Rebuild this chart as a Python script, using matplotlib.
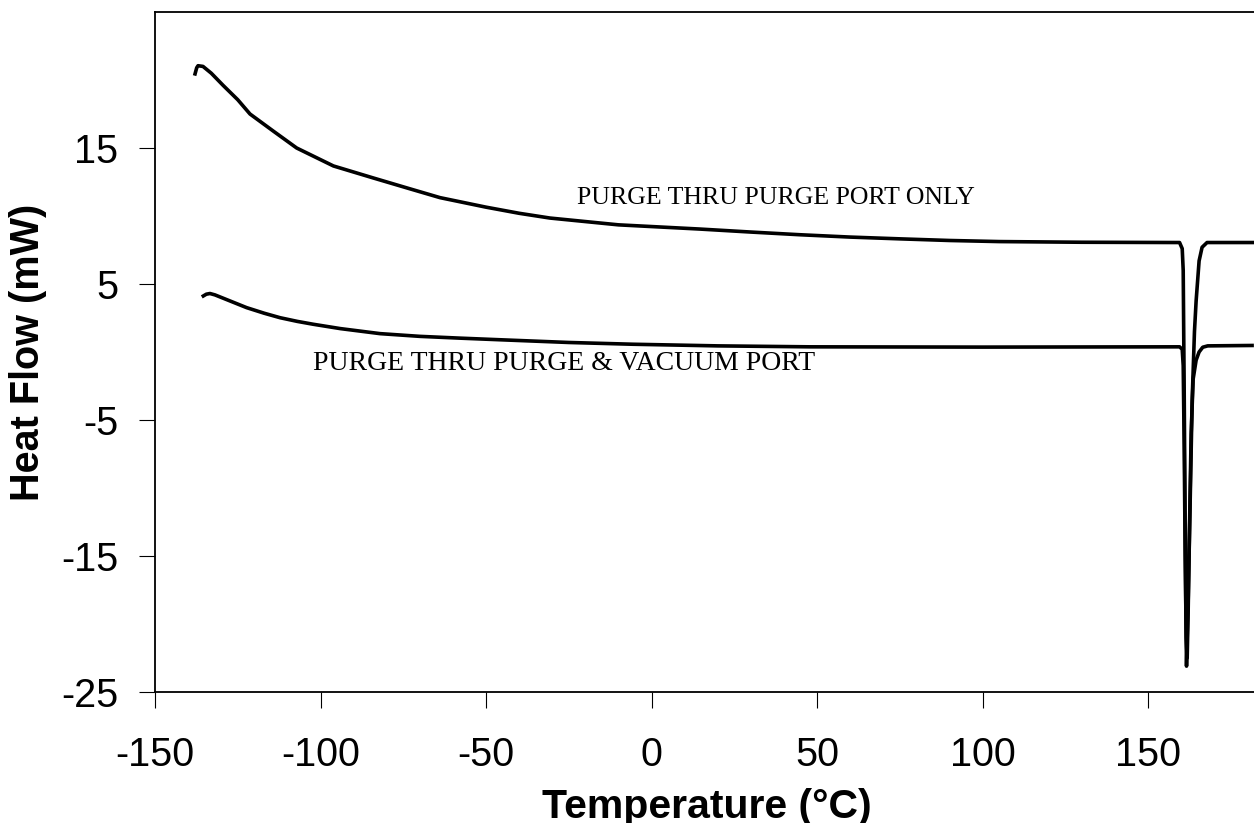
import numpy as np
import matplotlib.pyplot as plt

plt.rcParams['axes.unicode_minus'] = False

# upper curve: purge thru purge port only
t_top = [-137.9, -137.4, -137.0, -135.5, -133, -129.4, -125, -121.3, -114.3, -107.2,
         -96.1, -84.1, -73, -63.9, -50, -40, -30.7, -10, 14.6, 30, 45, 60, 75, 90,
         105, 130, 158, 159.5, 160.3, 160.6, 160.9, 161.2, 161.4, 161.6, 161.9,
         162.1, 162.7, 163.3, 164.0, 164.5, 165.4, 166.3, 167.8, 185]
hf_top = [20.45, 20.9, 21.05, 21.0, 20.5, 19.6, 18.55, 17.5, 16.25, 15.0,
          13.68, 12.8, 12.0, 11.35, 10.65, 10.2, 9.85, 9.35, 9.04, 8.82, 8.62, 8.45, 8.32, 8.2,
          8.12, 8.07, 8.05, 8.05, 7.6, 6.0, -3.0, -13.0, -19.0, -23.1, -20.0,
          -18.3, -11.0, -3.6, 1.5, 3.75, 6.7, 7.7, 8.05, 8.05]

# lower curve: purge thru purge & vacuum port
t_low = [-135.4, -134.5, -133.4, -131.9, -127, -122.3, -117, -112.2, -107, -102.2,
         -94, -82, -70, -58, -45.8, -25, -5.6, 20, 47.9, 100, 159.5, 160.3, 160.6,
         160.9, 161.2, 161.5, 161.8, 162.1, 162.5, 163.0, 163.6, 164.5, 165.4,
         166.5, 168.0, 181.4]
hf_low = [4.12, 4.25, 4.3, 4.2, 3.72, 3.26, 2.85, 2.52, 2.25, 2.04,
          1.72, 1.35, 1.15, 1.02, 0.9, 0.7, 0.57, 0.45, 0.38, 0.36, 0.38, 0.2, -1.0,
          -7.0, -15.0, -21.0, -22.5, -19.0, -13.0, -6.0, -2.0, -0.6, 0.0,
          0.35, 0.45, 0.48]

fig = plt.figure(figsize=(12.54, 8.23), dpi=100)
ax = fig.add_axes([0.1236, 0.1592, 0.8804, 0.8262])

ax.plot(t_top, hf_top, 'k-', lw=2.6)
ax.plot(t_low, hf_low, 'k-', lw=2.6)

ax.text(-22.5, 10.88, 'PURGE THRU PURGE PORT ONLY', family='Liberation Serif', fontsize=18.6)
ax.text(-102.3, -1.35, 'PURGE THRU PURGE & VACUUM PORT', family='Liberation Serif', fontsize=20)

ax.set_xlim(-150, 183.5)
ax.set_ylim(-25, 25)
ax.set_xticks([-150, -100, -50, 0, 50, 100, 150])
ax.set_yticks([-25, -15, -5, 5, 15])
ax.tick_params(direction='out', length=11.5, width=0.8, labelsize=28.5)
ax.tick_params(axis='x', pad=20)
ax.tick_params(axis='y', pad=15)
for lab in ax.get_xticklabels() + ax.get_yticklabels():
    lab.set_family('Liberation Sans')
for s in ax.spines.values():
    s.set_linewidth(1.3)

ax.set_xlabel('Temperature (°C)', family='Liberation Sans', fontsize=29.5, fontweight='bold', labelpad=10)
ax.set_ylabel('Heat Flow (mW)', family='Liberation Sans', fontsize=28.5, fontweight='bold', labelpad=10)

fig.savefig('out.png', dpi=100)
